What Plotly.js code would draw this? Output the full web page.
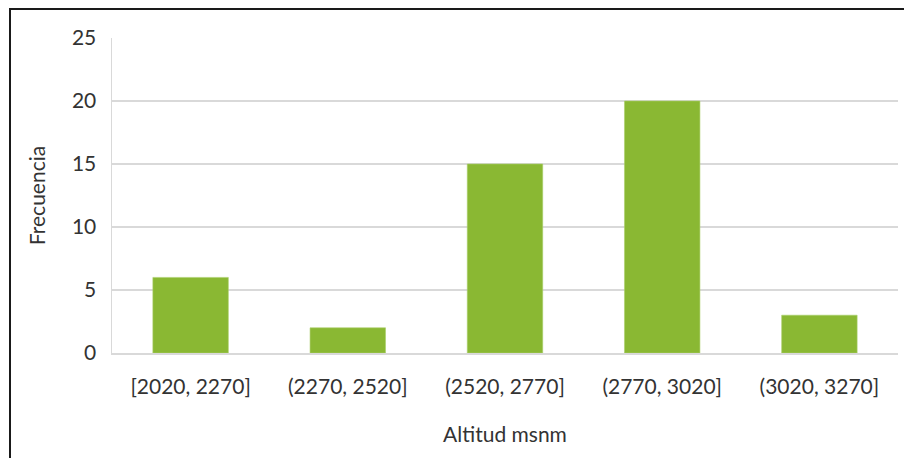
<!DOCTYPE html>
<html>
<head>
<meta charset="utf-8">
<script src="https://cdn.plot.ly/plotly-3.0.1.min.js"></script>
<style>
  html, body { margin: 0; padding: 0; background: #ffffff; overflow: hidden; }
  #chart { width: 904px; height: 458px; position: absolute; left: 0; top: 0; }
  #frame { position: absolute; left: 9px; top: 8px; width: 1000px; height: 1000px;
           border-left: 2px solid #1a1a1a; border-top: 2px solid #1a1a1a; pointer-events: none; }
</style>
</head>
<body>
<div id="chart"></div>
<div id="frame"></div>
<script>
// Altitude classes (metres above sea level) and their frequencies
const intervals = ['[2020, 2270]', '(2270, 2520]', '(2520, 2770]', '(2770, 3020]', '(3020, 3270]'];
const frequencies = [6, 2, 15, 20, 3];
const yTicks = [0, 5, 10, 15, 20, 25];

const font = 'Lato, "Open Sans", sans-serif';
const textColor = '#333333';

const trace = {
  type: 'bar',
  x: intervals,
  y: frequencies,
  marker: { color: '#8ab833', line: { color: '#a9cf6a', width: 0.6 } },
  hoverinfo: 'x+y'
};

const layout = {
  width: 904,
  height: 458,
  margin: { l: 112, r: 6, t: 38, b: 105 },
  paper_bgcolor: '#ffffff',
  plot_bgcolor: '#ffffff',
  bargap: 0.52,
  showlegend: false,
  font: { family: font, color: textColor, size: 21 },
  xaxis: {
    type: 'category',
    showgrid: false,
    showline: true,
    linecolor: '#d9d9d9',
    linewidth: 1.5,
    ticks: '',
    ticklabelstandoff: 14,
    tickfont: { family: font, size: 21, color: textColor },
    title: { text: 'Altitud msnm', font: { family: font, size: 21, color: textColor }, standoff: 30 }
  },
  yaxis: {
    range: [0, 25],
    tickvals: yTicks,
    showgrid: true,
    gridcolor: '#d9d9d9',
    gridwidth: 1.5,
    zeroline: false,
    showline: true,
    linecolor: '#d9d9d9',
    linewidth: 1.5,
    ticks: '',
    ticklabelstandoff: 10,
    tickfont: { family: font, size: 21, color: textColor },
    title: { text: 'Frecuencia', font: { family: font, size: 21, color: textColor }, standoff: 20 }
  }
};

Plotly.newPlot('chart', [trace], layout, { displayModeBar: false, staticPlot: true });
</script>
</body>
</html>
